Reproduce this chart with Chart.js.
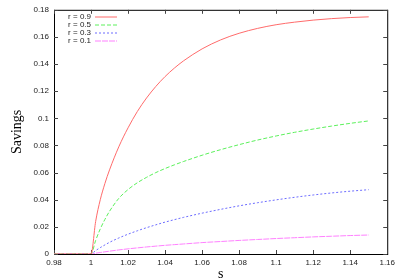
<!DOCTYPE html>
<html>
<head>
<meta charset="utf-8">
<script src="https://cdn.jsdelivr.net/npm/chart.js@4/dist/chart.umd.min.js"></script>
<style>
  html, body { margin: 0; padding: 0; background: #fff; }
  #wrap { width: 399px; height: 279px; }
</style>
</head>
<body>
<div id="wrap"><canvas id="savingsChart" width="399" height="279"></canvas></div>
<script>
// Savings vs s for several r values

const sValues = [0.98, 1.0, 1.0025, 1.005, 1.0075, 1.01, 1.015, 1.02, 1.025, 1.03, 1.035, 1.04, 1.045,
                 1.05, 1.06, 1.07, 1.08, 1.09, 1.1, 1.11, 1.12, 1.13, 1.14, 1.15];

const savingsR09 = [0, 0, 0.024, 0.040, 0.052, 0.062, 0.079, 0.093, 0.105, 0.115, 0.1235, 0.1308, 0.137,
                    0.1424, 0.1512, 0.1578, 0.1627, 0.1663, 0.169, 0.1709, 0.1724, 0.1735, 0.1743, 0.1748];
const savingsR05 = [0, 0, 0.010, 0.0185, 0.0255, 0.0315, 0.041, 0.0475, 0.0525, 0.0565, 0.060, 0.063, 0.0657,
                    0.0682, 0.0728, 0.0769, 0.0806, 0.084, 0.087, 0.0897, 0.0921, 0.0943, 0.0963, 0.0981];
const savingsR03 = [0, 0, 0.0025, 0.0047, 0.0067, 0.0086, 0.0118, 0.0146, 0.0171, 0.0194, 0.0215, 0.0235, 0.0253,
                    0.027, 0.0301, 0.0329, 0.0355, 0.0378, 0.0399, 0.0418, 0.0435, 0.045, 0.0463, 0.0474];
const savingsR01 = [0, 0, 0.0006, 0.0011, 0.0016, 0.0021, 0.003, 0.0038, 0.0045, 0.0052, 0.0058, 0.0064, 0.0069,
                    0.0074, 0.0084, 0.0092, 0.010, 0.0107, 0.0114, 0.012, 0.0126, 0.0131, 0.0136, 0.014];

const seriesLabels = ['r = 0.9', 'r = 0.5', 'r = 0.3', 'r = 0.1'];
const seriesColors = ['#ff6b6b', '#5cf05c', '#6c6cff', '#ff80ff'];
const seriesDashes = [[], [4, 2], [2, 2], [6, 1]];

const xMin = 0.98, xMax = 1.16, xStep = 0.02;
const yMin = 0, yMax = 0.18, yStep = 0.02;

function pairs(ys) {
    return sValues.map((s, i) => ({ x: s, y: ys[i] }));
}

const allSeries = [savingsR09, savingsR05, savingsR03, savingsR01];

const datasets = allSeries.map((ys, i) => ({
    label: seriesLabels[i],
    data: pairs(ys),
    borderColor: seriesColors[i],
    borderWidth: 1,
    borderDash: seriesDashes[i],
    pointRadius: 0,
    cubicInterpolationMode: 'monotone',
    fill: false
}));

function fmt(v) {
    return String(+Number(v).toFixed(2));
}

// gnuplot style frame with inward ticks on every side, plus the key
const framePlugin = {
    id: 'frame',
    beforeDatasetsDraw(chart) {
        const { ctx, chartArea: a, scales } = chart;
        ctx.save();
        ctx.strokeStyle = '#000';
        ctx.lineWidth = 1;
        ctx.strokeRect(a.left + 0.5, a.top + 0.5, a.right - a.left, a.bottom - a.top);
        ctx.strokeStyle = '#444';
        ctx.beginPath();
        const tl = 4;
        scales.x.ticks.forEach(t => {
            const px = Math.round(scales.x.getPixelForValue(t.value)) + 0.5;
            ctx.moveTo(px, a.bottom);
            ctx.lineTo(px, a.bottom - tl);
            ctx.moveTo(px, a.top);
            ctx.lineTo(px, a.top + tl);
        });
        scales.y.ticks.forEach(t => {
            const py = Math.round(scales.y.getPixelForValue(t.value)) + 0.5;
            ctx.moveTo(a.left, py);
            ctx.lineTo(a.left + tl, py);
            ctx.moveTo(a.right, py);
            ctx.lineTo(a.right - tl, py);
        });
        ctx.stroke();
        ctx.restore();
    },
    afterDraw(chart) {
        const { ctx, chartArea: a } = chart;
        ctx.save();
        ctx.font = '8px "Liberation Sans", Arial, sans-serif';
        ctx.textAlign = 'right';
        ctx.textBaseline = 'middle';
        seriesLabels.forEach((label, i) => {
            const y = a.top + 7 + i * 8.1;
            ctx.fillStyle = '#222';
            ctx.fillText(label, a.left + 37, y);
        });
        seriesLabels.forEach((label, i) => {
            const y = Math.round(a.top + 7 + i * 8.1);
            ctx.beginPath();
            ctx.setLineDash(seriesDashes[i]);
            ctx.lineWidth = 1;
            ctx.strokeStyle = seriesColors[i];
            ctx.moveTo(a.left + 41, y);
            ctx.lineTo(a.left + 63, y);
            ctx.stroke();
        });
        ctx.restore();
    }
};

new Chart(document.getElementById('savingsChart').getContext('2d'), {
    type: 'line',
    data: { datasets: datasets },
    options: {
        responsive: false,
        animation: false,
        layout: { padding: { left: 0, right: 9, top: 9, bottom: 0 } },
        plugins: {
            legend: { display: false },
            tooltip: { enabled: false }
        },
        scales: {
            x: {
                type: 'linear',
                min: xMin,
                max: xMax,
                grid: { display: false, drawTicks: false },
                border: { display: false },
                ticks: {
                    stepSize: xStep,
                    padding: 4,
                    color: '#222',
                    font: { family: '"Liberation Sans", Arial, sans-serif', size: 8 },
                    maxRotation: 0,
                    autoSkip: false,
                    callback: v => fmt(v)
                },
                title: {
                    display: true,
                    text: 's',
                    color: '#000',
                    font: { family: '"Liberation Serif", "Times New Roman", serif', size: 14, lineHeight: 1 },
                    padding: { top: 0, bottom: -2 }
                },
                afterFit: s => { s.height = 25; }
            },
            y: {
                min: yMin,
                max: yMax,
                grid: { display: false, drawTicks: false },
                border: { display: false },
                ticks: {
                    stepSize: yStep,
                    padding: 5,
                    color: '#222',
                    font: { family: '"Liberation Sans", Arial, sans-serif', size: 8 },
                    callback: v => fmt(v)
                },
                title: {
                    display: true,
                    text: 'Savings',
                    color: '#000',
                    font: { family: '"Liberation Serif", "Times New Roman", serif', size: 14, lineHeight: 1 },
                    padding: { top: 10, bottom: 0 }
                },
                afterFit: s => { s.width = 54; }
            }
        }
    },
    plugins: [framePlugin]
});
</script>
</body>
</html>
